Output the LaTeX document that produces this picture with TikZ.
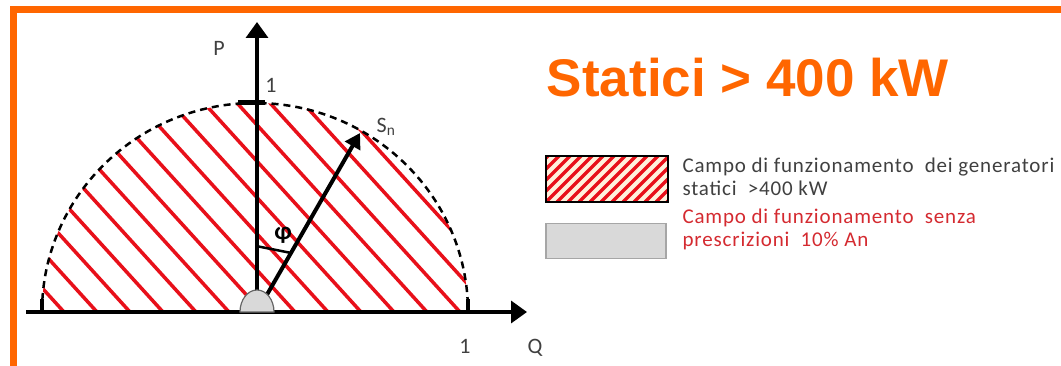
\documentclass[tikz,border=0pt]{standalone}
\usepackage{fontspec}
\setmainfont{Carlito}
\newfontfamily\titlefont{Liberation Sans}
\newfontfamily\legendfont[LetterSpace=4]{Carlito}
\usepackage{tikz}
\usetikzlibrary{arrows.meta,positioning,calc}

\definecolor{frameorange}{HTML}{FF6600}
\definecolor{hatchred}{HTML}{E8101A}
\definecolor{legendgray}{HTML}{D9D9D9}
\definecolor{legendtext}{HTML}{404040}
\definecolor{legendred}{HTML}{D42A30}
\definecolor{hatchcream}{HTML}{FFF1DC}

\tikzset{
	axis/.style={line width=3.5pt, -{Triangle[length=16pt,width=22pt]}},
	hatchline/.style={hatchred, line width=3.5pt},
	axislabel/.style={text=black!75, font=\fontsize{22}{22}\selectfont},
	legendlabel/.style={anchor=west, align=left, font=\legendfont\fontsize{21}{23}\selectfont},
}

\begin{document}
\begin{tikzpicture}[x=1pt, y=1pt]
			\useasboundingbox (0,0) rectangle (1061,365);
			% Orange frame (top and left side)
			\draw[frameorange, line width=7pt] (13,-5) -- (13,355) -- (1070,355);
			
			% Axes
			\coordinate (O) at (257,53);
			\coordinate (Qstart) at (26,53);
			\coordinate (Qtip) at (527,53);
			\coordinate (Ptip) at (257,343);
			\coordinate (Stip) at (360,232);
			
			% Hatched operating region
			\begin{scope}
				\clip (42,53) arc[start angle=180, end angle=0, x radius=213, y radius=209] -- cycle;
				\foreach \i in {0,...,14} {
					\draw[hatchline] (64+33*\i,53) -- ++(-300,330);
				}
			\end{scope}
			\draw[dashed, dash pattern=on 7pt off 5pt, line width=2.5pt] (42,53) arc[start angle=180, end angle=0, x radius=213, y radius=209];
			\draw[line width=3.5pt] (42,53) -- (42,66);
			\draw[line width=3.5pt] (468,53) -- (468,66);
			\draw[line width=5pt] (238,262) -- (265,262);
			
			\draw[axis] (Qstart) -- (Qtip);
			\draw[axis] (O) -- (Ptip);
			\draw[line width=4pt, -{Triangle[length=15pt,width=17pt]}] (O) -- (Stip);
			
			% Angle phi
			\coordinate (phiA) at (256,119);
			\draw[line width=2.5pt] (phiA) -- ($(O)!0.33!(Stip)$);
			
			% Small region at the origin
			\draw[fill=legendgray, draw=black!60, line width=1.2pt] (240,53) arc[start angle=180, end angle=0, x radius=17, y radius=22] -- cycle;
			
			% Labels
			\node[axislabel] (Plabel) at (219,317) {P};
			\node[axislabel] (Pone) at (271,280) {1};
			\node[axislabel] (Qone) at (465,19) {1};
			\node[axislabel] (Qlabel) at (535,17) {Q};
			\node[axislabel] (Slabel) at (386,238) {S\textsubscript{n}};
			\node[axislabel, text=black, font=\bfseries\fontsize{25}{25}\selectfont] (philabel) at (283,130) {φ};
			
			% Title
			\node[text=frameorange, font=\titlefont\bfseries\fontsize{53}{53}\selectfont] (title) at (748,287) {Statici > 400 kW};
			
			% Legend
			\node[draw=black, line width=2pt, fill=hatchcream, minimum width=122pt, minimum height=46pt,
			path picture={
				\foreach \k in {-6,...,12} {
					\draw[hatchred, line width=3.5pt] ([xshift=\k*11pt]path picture bounding box.south west) -- ++(60pt,60pt);
				}
			}] (hatchbox) at (607,186) {};
			\node[legendlabel, text=legendtext] (hatchtext) at (679,188) {Campo di funzionamento\ \ dei generatori\\statici\ \ >400 kW};
			\node[draw=black!35, line width=1.5pt, fill=legendgray, minimum width=120pt, minimum height=35pt] (graybox) at (606,124) {};
			\node[legendlabel, text=legendred] (graytext) at (679,136) {Campo di funzionamento\ \ senza\\prescrizioni\ \ 10\% An};
\end{tikzpicture}
\end{document}
